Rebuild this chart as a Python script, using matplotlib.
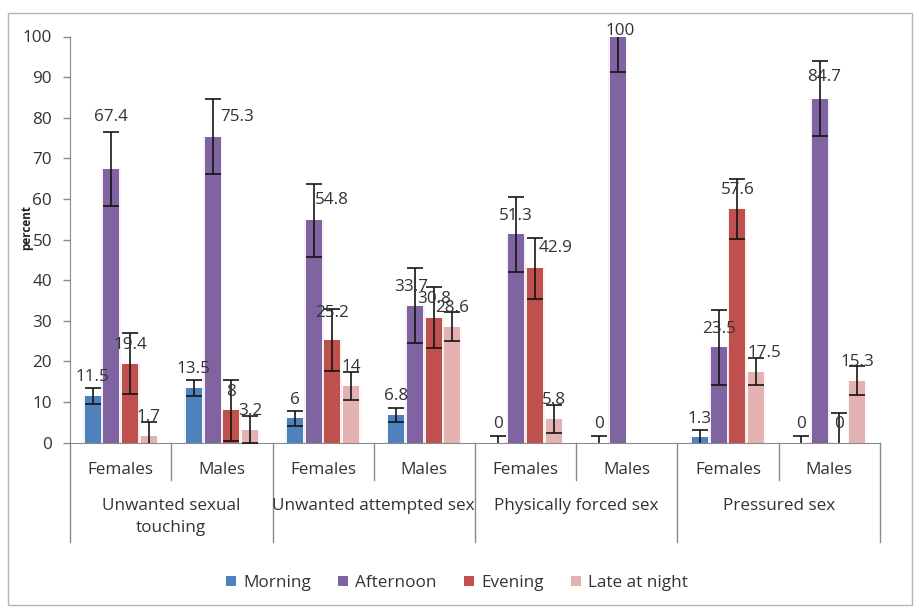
import numpy as np
import matplotlib
matplotlib.use("Agg")
import matplotlib.pyplot as plt
from matplotlib.patches import Rectangle, Patch

plt.rcParams["font.family"] = ["Open Sans", "DejaVu Sans"]

# ---------------- data ----------------
groups = ["Unwanted sexual\ntouching", "Unwanted attempted sex",
          "Physically forced sex", "Pressured sex"]
sexes = ["Females", "Males"]
series = ["Morning", "Afternoon", "Evening", "Late at night"]

# one value per (group, sex) column, 8 columns
morning   = [11.5, 13.5, 6, 6.8, 0, 0, 1.3, 0]
afternoon = [67.4, 75.3, 54.8, 33.7, 51.3, 100, 23.5, 84.7]
evening   = [19.4, 8, 25.2, 30.8, 42.9, np.nan, 57.6, 0]
late      = [1.7, 3.2, 14, 28.6, 5.8, np.nan, 17.5, 15.3]

err_morning   = [1.9, 1.9, 1.9, 1.8, 1.6, 1.6, 1.8, 1.7]
err_afternoon = [9.1, 9.2, 9.0, 9.2, 9.2, 8.8, 9.2, 9.2]
err_evening   = [7.5, 7.5, 7.6, 7.5, 7.5, np.nan, 7.4, 7.2]
err_late      = [3.5, 3.3, 3.4, 3.6, 3.5, np.nan, 3.3, 3.6]

values = [morning, afternoon, evening, late]
errors = [err_morning, err_afternoon, err_evening, err_late]
colors = ["#4F81BD", "#8064A2", "#C0504D", "#E3B2B1"]

# label nudges: (column, series) -> (dx in column units, dy in percent)
label_nudge = {
    (0, 1): (0.0, 8.1),
    (1, 1): (0.24, 0.4),
    (2, 1): (0.175, 0.3),
    (2, 2): (0.0, 2.2),
    (3, 1): (-0.035, 0.1),
    (4, 2): (0.2, 0.4),
    (5, 1): (0.03, -3.2),
    (6, 3): (0.085, 0.0),
    (7, 1): (0.04, 0.7),
}

W, H = 920, 610
FS = 12.3
fig = plt.figure(figsize=(W / 100, H / 100), dpi=100)
ax = fig.add_axes([70 / W, 1 - 442.7 / H, 810 / W, (442.7 - 36.5) / H])

ncol = len(morning)
x = np.arange(ncol) + 0.5
bar_w = 0.158
step = 0.185
txt_col = "#333333"
axis_col = "#8a8a8a"

for s, (vals, errs, c) in enumerate(zip(values, errors, colors)):
    xs = x + (s - 1.5) * step
    v = np.array(vals, dtype=float)
    e = np.array(errs, dtype=float)
    # faint halo behind the bars
    ax.bar(xs, v, width=bar_w + 0.035, color=c, alpha=0.08, linewidth=0, zorder=1)
    ax.bar(xs, v, width=bar_w, color=c, linewidth=0, zorder=2)
    ok = ~np.isnan(v)
    ax.errorbar(xs[ok], v[ok], yerr=e[ok], fmt="none", ecolor="#151515",
                elinewidth=1.2, capsize=6, capthick=1.2, zorder=3)
    for i in range(ncol):
        if np.isnan(v[i]):
            continue
        dx, dy = label_nudge.get((i, s), (0.0, 0.0))
        ax.text(xs[i] + dx, v[i] + 4.6 + dy, f"{vals[i]:g}", ha="center",
                va="center", fontsize=FS, color=txt_col, zorder=4)

ax.set_xlim(0, ncol)
ax.set_ylim(0, 100)
ax.set_yticks(range(0, 101, 10))
ax.tick_params(axis="y", length=5, width=1, color=axis_col, pad=8,
               labelsize=FS, labelcolor=txt_col)
ax.set_xticks([])
for side in ["top", "right"]:
    ax.spines[side].set_visible(False)
ax.spines["left"].set_color(axis_col)
ax.spines["bottom"].set_color(axis_col)

# multi-level category axis
tr = ax.get_xaxis_transform()
y_short = (442.7 - 480) / 406.2
y_long = (442.7 - 542) / 406.2
for k in range(ncol + 1):
    yb = y_long if k % 2 == 0 else y_short
    ax.plot([k, k], [0, yb], color=axis_col, lw=1, transform=tr, clip_on=False)
for i in range(ncol):
    ax.text(x[i], (442.7 - 470) / 406.2, sexes[i % 2], transform=tr,
            ha="center", va="center", fontsize=FS, color=txt_col)
for g, name in enumerate(groups):
    ax.text(2 * g + 1, (442.7 - 498) / 406.2, name, transform=tr, ha="center",
            va="top", fontsize=FS, color=txt_col, linespacing=1.5)

fig.text(27 / W, 1 - 227 / H, "percent", rotation=90, ha="center", va="center",
         fontsize=8.5, fontweight="bold", color="#222222")

handles = [Patch(facecolor=c, edgecolor="none") for c in colors]
fig.legend(handles, series, loc="center", bbox_to_anchor=(457 / W, 1 - 583 / H),
           ncol=4, frameon=False, fontsize=FS, handlelength=0.6,
           handleheight=0.6, handletextpad=0.4, columnspacing=1.6,
           labelcolor=txt_col)

# chart border
fig.patches.append(Rectangle((8 / W, 1 - 605 / H), 904 / W, 592 / H,
                             transform=fig.transFigure, fill=False,
                             edgecolor="#b5b5b5", lw=1))

fig.savefig("out.png", dpi=100)
